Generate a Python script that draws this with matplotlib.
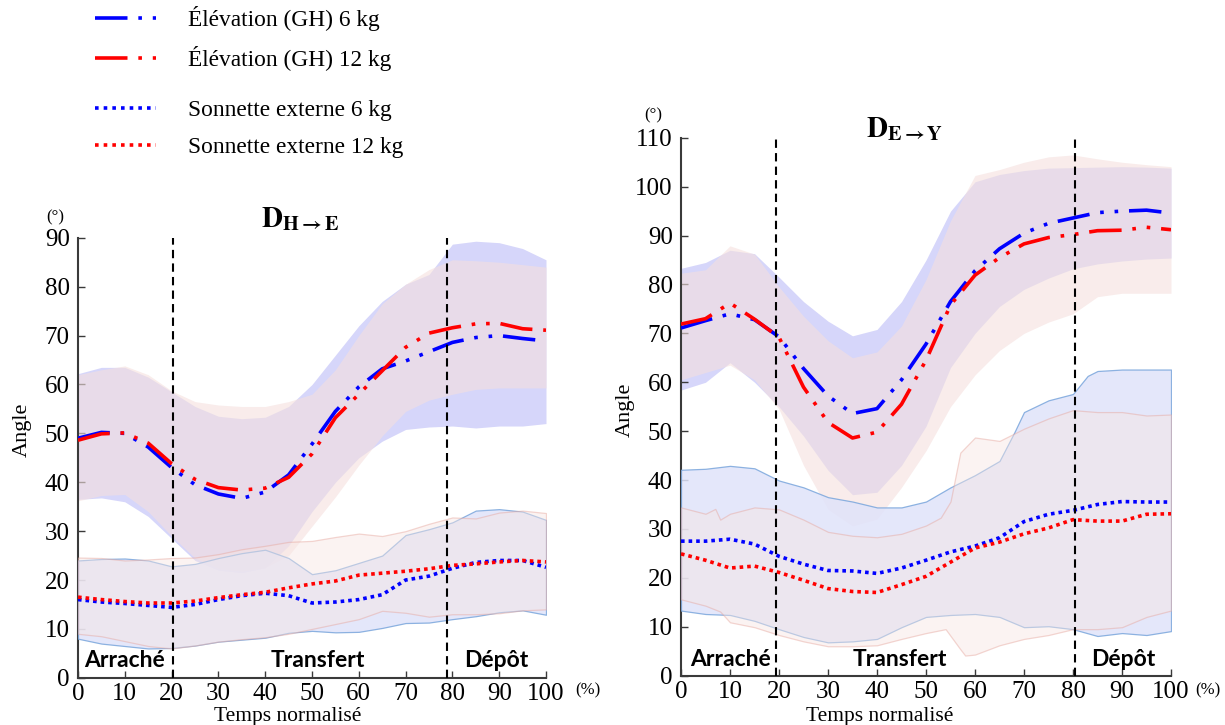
import numpy as np
import matplotlib
matplotlib.use('Agg')
from matplotlib import pyplot as plt
from matplotlib.lines import Line2D

plt.rcParams['font.family'] = ['Liberation Serif', 'DejaVu Serif']
plt.rcParams['mathtext.fontset'] = 'stix'

#%% data, x in % of normalised time
pct = [0, 5, 10, 15, 20, 25, 30, 35, 40, 45, 50, 55, 60, 65, 70, 75, 80, 85, 90, 95, 100]

# ---- left panel : D H->E
elev6_L = [49.0, 50.2, 50.0, 47.2, 43.0, 39.5, 37.6, 36.7, 38.0, 41.5, 47.8, 54.5, 59.5, 63.2, 64.8, 66.7, 68.6, 69.6, 70.0, 69.4, 68.9]
elev12_L = [48.6, 49.9, 50.1, 48.0, 43.8, 40.6, 38.9, 38.4, 38.8, 41.0, 45.8, 53.2, 58.0, 62.8, 67.6, 70.5, 71.6, 72.4, 72.5, 71.4, 71.1]
elev6_L_up = [62.2, 63.5, 63.5, 61.5, 58.5, 55.5, 53.5, 53.0, 53.3, 55.5, 60.0, 66.0, 72.0, 77.0, 80.5, 82.5, 88.7, 89.3, 89.0, 87.8, 85.5]
elev6_L_lo = [36.5, 36.8, 36.0, 33.0, 28.5, 24.0, 22.0, 21.5, 22.5, 27.0, 34.0, 40.0, 45.0, 48.4, 50.8, 51.3, 51.5, 51.1, 51.5, 51.5, 52.0]
elev12_L_up = [62.0, 63.0, 63.8, 62.0, 58.7, 56.5, 55.8, 55.5, 55.5, 56.5, 58.0, 63.0, 70.0, 76.5, 80.5, 83.5, 85.5, 85.3, 85.0, 84.5, 84.0]
elev12_L_lo = [36.2, 37.3, 37.5, 34.0, 29.0, 24.5, 22.3, 21.8, 22.5, 25.0, 31.0, 37.0, 43.5, 49.5, 54.5, 56.8, 58.0, 59.0, 59.3, 59.3, 59.3]

son6_L = [16.0, 15.5, 15.2, 14.8, 14.4, 15.0, 16.0, 16.8, 17.3, 16.8, 15.3, 15.5, 16.0, 17.0, 20.0, 20.8, 22.4, 23.6, 24.0, 24.0, 22.6]
son12_L = [16.5, 16.0, 15.6, 15.3, 15.3, 15.7, 16.4, 17.0, 17.5, 18.4, 19.2, 19.8, 21.0, 21.4, 21.8, 22.3, 23.0, 23.3, 23.7, 24.0, 23.7]
son6_L_up = [24.0, 24.3, 24.4, 24.0, 22.8, 23.3, 24.5, 25.5, 26.2, 24.5, 21.2, 22.0, 23.5, 25.0, 29.2, 30.4, 31.8, 34.2, 34.5, 34.0, 32.3]
son6_L_lo = [8.0, 7.0, 6.5, 6.0, 6.1, 6.6, 7.4, 7.8, 8.2, 9.2, 9.6, 9.3, 9.4, 10.2, 11.2, 11.3, 12.0, 12.6, 13.4, 13.8, 12.9]
son12_L_up = [24.6, 24.5, 24.0, 24.2, 24.5, 24.6, 25.3, 26.3, 27.0, 27.8, 28.0, 28.8, 29.5, 29.0, 30.0, 31.5, 32.8, 32.6, 33.8, 34.2, 33.7]
son12_L_lo = [9.0, 8.5, 7.5, 6.5, 6.0, 6.6, 7.4, 7.9, 8.3, 9.0, 10.0, 11.0, 12.0, 13.7, 13.3, 12.5, 13.0, 13.0, 13.2, 13.8, 14.0]

# ---- right panel : D E->Y
elev6_R = [71.1, 72.6, 74.0, 72.8, 69.3, 62.8, 57.2, 53.6, 54.6, 60.5, 67.8, 76.5, 82.8, 87.3, 90.5, 92.5, 93.6, 94.7, 95.0, 95.2, 94.6]
elev12_R = [71.9, 73.0, 76.2, 72.9, 69.2, 59.0, 51.8, 48.6, 49.8, 55.5, 64.5, 75.8, 81.9, 85.5, 88.3, 89.6, 90.2, 91.0, 91.1, 91.7, 91.2]
elev6_R_up = [83.3, 84.5, 87.0, 86.3, 81.5, 76.5, 72.5, 69.5, 70.8, 76.5, 85.0, 95.0, 101.0, 102.5, 103.3, 103.8, 103.9, 104.0, 104.1, 104.0, 103.8]
elev6_R_lo = [58.4, 60.0, 64.0, 60.0, 55.0, 49.0, 42.0, 37.0, 37.5, 43.0, 51.0, 63.0, 70.0, 75.5, 79.0, 81.3, 83.2, 84.2, 84.8, 85.2, 85.4]
elev12_R_up = [82.3, 83.0, 87.9, 86.2, 79.5, 73.5, 68.5, 65.0, 66.2, 71.5, 81.0, 93.0, 102.3, 103.5, 105.0, 106.1, 106.5, 105.7, 105.0, 104.5, 104.1]
elev12_R_lo = [60.5, 62.0, 63.5, 60.5, 54.5, 43.0, 34.0, 30.6, 32.0, 38.5, 46.0, 55.0, 61.5, 66.5, 70.0, 72.3, 74.0, 77.5, 78.2, 78.2, 78.2]

son6_R = [27.5, 27.5, 27.9, 26.9, 24.4, 22.8, 21.5, 21.4, 20.9, 22.0, 23.6, 25.3, 26.5, 28.2, 31.5, 33.0, 33.8, 35.0, 35.6, 35.5, 35.5]
son12_R = [24.9, 23.6, 22.0, 22.4, 21.1, 19.5, 17.8, 17.2, 17.0, 18.6, 20.3, 23.2, 26.1, 27.3, 29.0, 30.2, 31.9, 31.6, 31.6, 33.0, 33.1]
son6_R_up_x = [0, 5, 10, 15, 20, 25, 30, 35, 40, 45, 50, 55, 60, 65, 68, 70, 75, 80, 83, 85, 90, 95, 100]
son6_R_up = [42.1, 42.3, 42.9, 42.4, 39.9, 38.5, 36.5, 35.6, 34.4, 34.4, 35.6, 38.5, 41.0, 43.9, 49.7, 53.9, 56.3, 57.6, 61.3, 62.3, 62.6, 62.6, 62.6]
son6_R_lo = [13.3, 12.6, 12.4, 11.2, 9.5, 7.9, 6.8, 7.0, 7.5, 9.9, 12.0, 12.4, 12.6, 12.0, 9.9, 10.1, 9.5, 8.1, 8.7, 8.3, 9.1]
son12_R_up_x = [0, 5, 7, 8, 10, 15, 20, 25, 30, 35, 40, 45, 50, 53, 55, 57, 60, 65, 70, 75, 80, 85, 90, 95, 100]
son12_R_up = [34.4, 33.1, 34.1, 31.9, 33.1, 34.4, 34.0, 31.9, 29.4, 28.6, 28.3, 29.0, 30.7, 32.3, 35.6, 45.6, 48.7, 48.0, 50.5, 52.6, 54.3, 53.9, 53.9, 53.2, 53.4]
son12_R_lo_x = [0, 5, 8, 10, 15, 20, 25, 30, 35, 40, 45, 50, 54, 57, 58, 60, 65, 70, 75, 80, 85, 90, 95, 100]
son12_R_lo = [15.6, 14.3, 13.1, 10.9, 9.9, 8.3, 7.0, 6.0, 6.0, 6.2, 7.5, 8.7, 9.5, 5.4, 4.1, 4.3, 6.2, 7.5, 8.3, 9.5, 9.5, 9.9, 12.0, 13.3]

phases = ['Arraché', 'Transfert', 'Dépôt']
phase_bounds_L = [20.3, 78.8]
phase_bounds_R = [19.4, 80.4]

labels = ['Élévation (GH) 6 kg', 'Élévation (GH) 12 kg',
          'Sonnette externe 6 kg', 'Sonnette externe 12 kg']

#%% styles
dashdotdot = (0, (9, 3, 1, 3, 1, 3))
dotted = (0, (1, 1.1))
lw = 2.6
blue = '#0000ff'
red = '#ff0000'

#%% figure
fig = plt.figure(figsize=(12.25, 7.25), dpi=100)
axL = fig.add_axes([78/1225, 47.2/725, 468/1225, 440/725])
axR = fig.add_axes([681/1225, 49.4/725, 490/1225, 537.8/725])


def interp_on(x_src, y_src, x_dst):
    return np.interp(x_dst, x_src, y_src)


def draw_panel(ax, elev, son, bounds, ymax, phase_x, phase_y):
    e6, e12, e6u, e6l, e12u, e12l = elev
    s6, s12, s6u, s6l, s12u, s12l = son

    # elevation bands
    ax.fill_between(pct, e6l, e6u, color=(0.84, 0.84, 0.98), lw=0, zorder=1)
    ax.fill_between(pct, e12l, e12u, color=(0.96, 0.88, 0.87), alpha=0.6, lw=0, zorder=2)

    # sonnette bands (with thin outline)
    ax.fill_between(s6u[0], interp_on(s6l[0], s6l[1], s6u[0]), s6u[1],
                    facecolor=(0.88, 0.89, 0.98), alpha=0.85,
                    edgecolor='#7aa6dc', lw=0.9, zorder=3)
    xs = sorted(set(s12u[0]) | set(s12l[0]))
    ax.fill_between(xs, interp_on(s12l[0], s12l[1], xs), interp_on(s12u[0], s12u[1], xs),
                    facecolor=(0.97, 0.90, 0.89), alpha=0.45,
                    edgecolor='#e6a59c', lw=0.9, zorder=4)

    # means
    ax.plot(pct, e6, color=blue, lw=lw, ls=dashdotdot, zorder=6)
    ax.plot(pct, e12, color=red, lw=lw, ls=dashdotdot, zorder=6)
    ax.plot(pct, s6, color=blue, lw=lw, ls=dotted, zorder=6)
    ax.plot(pct, s12, color=red, lw=lw, ls=dotted, zorder=6)

    for b in bounds:
        ax.plot([b, b], [0, ymax], color='k', lw=1.5, ls=(0, (4, 2.5)), zorder=7)

    for name, px in zip(phases, phase_x):
        ax.text(px, phase_y, name, ha='center', va='center', fontsize=16.5,
                fontweight='bold', family=['Lato', 'DejaVu Sans'], zorder=8)

    ax.set_xlim(0, 100)
    ax.set_ylim(0, ymax)
    ax.set_xticks(np.arange(0, 101, 10))
    ax.set_yticks(np.arange(0, ymax + 1, 10))
    ax.spines['top'].set_visible(False)
    ax.spines['right'].set_visible(False)
    for s in ['left', 'bottom']:
        ax.spines[s].set_linewidth(1.5)
        ax.spines[s].set_color('#3a3a3a')
    ax.tick_params(direction='in', length=5, width=1, labelsize=18, pad=4, color='#3a3a3a')
    ax.tick_params(axis='y', pad=6)


draw_panel(axL,
           [elev6_L, elev12_L, elev6_L_up, elev6_L_lo, elev12_L_up, elev12_L_lo],
           [son6_L, son12_L, (pct, son6_L_up), (pct, son6_L_lo), (pct, son12_L_up), (pct, son12_L_lo)],
           phase_bounds_L, 90, [10, 51.3, 89.3], 3.6)
draw_panel(axR,
           [elev6_R, elev12_R, elev6_R_up, elev6_R_lo, elev12_R_up, elev12_R_lo],
           [son6_R, son12_R, (son6_R_up_x, son6_R_up), (pct, son6_R_lo), (son12_R_up_x, son12_R_up), (son12_R_lo_x, son12_R_lo)],
           phase_bounds_R, 110, [10, 44.7, 90.2], 3.2)

# titles, units, axis labels
axL.text(47.4, 91.0, r'$\mathbf{D}_{\mathbf{H\rightarrow E}}$', ha='center', va='bottom', fontsize=21, clip_on=False)
axR.text(45.7, 109.0, r'$\mathbf{D}_{\mathbf{E\rightarrow Y}}$', ha='center', va='bottom', fontsize=21, clip_on=False)

fig.text(55/1225, 1 - 217/725, '(°)', ha='center', va='center', fontsize=12)
fig.text(653/1225, 1 - 115/725, '(°)', ha='center', va='center', fontsize=12)
fig.text(588/1225, 1 - 690/725, '(%)', ha='center', va='center', fontsize=12)
fig.text(1208/1225, 1 - 690/725, '(%)', ha='center', va='center', fontsize=12)

fig.text(22/1225, 1 - 430/725, 'Angle', rotation=90, ha='center', va='center', fontsize=16)
fig.text(625/1225, 1 - 410/725, 'Angle', rotation=90, ha='center', va='center', fontsize=16)
fig.text(288/1225, 1 - 716/725, 'Temps normalisé', ha='center', va='center', fontsize=15.5)
fig.text(880/1225, 1 - 716/725, 'Temps normalisé', ha='center', va='center', fontsize=15.5)

# legend (two groups)
h_elev = [Line2D([], [], color=blue, lw=lw, ls=dashdotdot),
          Line2D([], [], color=red, lw=lw, ls=dashdotdot)]
h_son = [Line2D([], [], color=blue, lw=lw, ls=(0, (1, 1.4))),
         Line2D([], [], color=red, lw=lw, ls=(0, (1, 1.4)))]
leg_kw = dict(frameon=False, fontsize=16.8, handlelength=2.6, handletextpad=1.4,
              labelspacing=0.66, borderpad=0, borderaxespad=0, loc='upper left')
fig.legend(h_elev, labels[:2], bbox_to_anchor=(95/1225, 1 - 6/725), **leg_kw)
fig.legend(h_son, labels[2:], bbox_to_anchor=(95/1225, 1 - 100/725), **leg_kw)

fig.savefig('out.png', dpi=100)
